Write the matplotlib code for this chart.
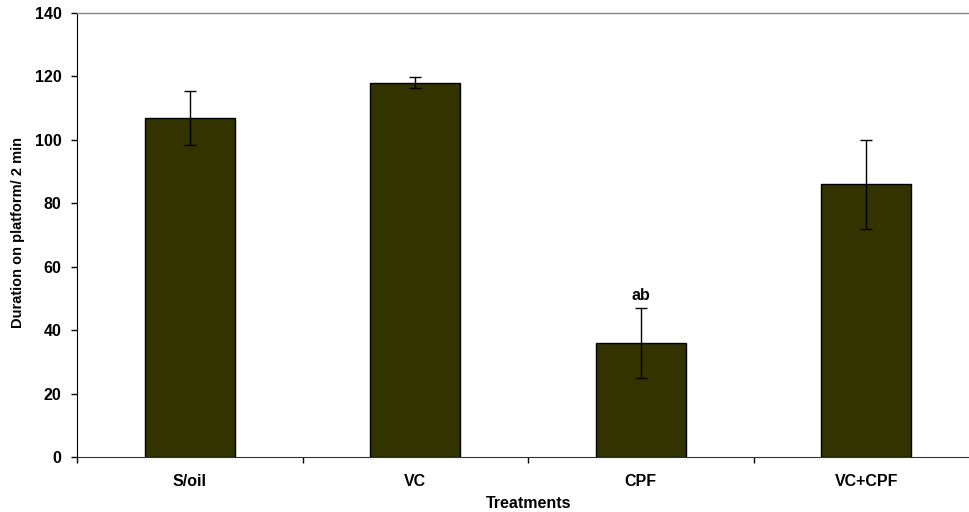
import matplotlib
matplotlib.use("Agg")
import matplotlib.pyplot as plt
import numpy as np

plt.rcParams['font.family'] = ['Liberation Sans', 'DejaVu Sans']
plt.rcParams['font.weight'] = 'bold'

# data
treatments = ['S/oil', 'VC', 'CPF', 'VC+CPF']
duration = [107, 118, 36, 86]
sem = [8.5, 1.8, 11.1, 14.0]
marks = ['', '', 'ab', '']

W, H = 969, 512
fig = plt.figure(figsize=(W / 100, H / 100), dpi=100)
# plot area runs slightly past the right edge of the picture
ax = fig.add_axes([77 / W, 55 / H, 902 / W, 444 / H])

x = np.arange(len(treatments))
ax.bar(x, duration, width=0.40, color='#333300', edgecolor='black', linewidth=1.0, zorder=2)
ax.errorbar(x, duration, yerr=sem, fmt='none', ecolor='black', elinewidth=1.0,
            capsize=4, capthick=1.0, zorder=3)

for xi, yi, ei, m in zip(x, duration, sem, marks):
    if m:
        ax.text(xi, yi + ei + 1.5, m, ha='center', va='bottom', fontsize=11.5, fontweight='bold')

ax.set_xlim(-0.5, len(treatments) - 0.5)
ax.set_ylim(0, 140)
ax.set_yticks(np.arange(0, 141, 20))

# category labels centred, ticks on the category boundaries
ax.set_xticks(np.arange(-0.5, len(treatments)), minor=False)
ax.set_xticklabels([])
ax.set_xticks(x, minor=True)
ax.set_xticklabels(treatments, minor=True, fontsize=11.5, fontweight='bold')
ax.tick_params(axis='x', which='minor', length=0, pad=12)
ax.tick_params(axis='x', which='major', length=4, width=1, direction='out')
ax.tick_params(axis='y', length=4, width=1, direction='out', labelsize=11.5, pad=7)
for lab in ax.get_yticklabels():
    lab.set_fontweight('bold')

ax.spines['left'].set_color('black')
ax.spines['bottom'].set_color('#333333')
ax.spines['top'].set_color('#888888')
ax.spines['top'].set_linewidth(1.0)
ax.spines['right'].set_visible(False)

ax.set_xlabel('Treatments', fontsize=11.5, fontweight='bold')
ax.set_ylabel('Duration on platform/ 2 min', fontsize=10.5, fontweight='bold')
# label centres (pixels)
ax.xaxis.set_label_coords((529 - 77) / 902, (457 - 503) / 444)
ax.yaxis.set_label_coords((18 - 77) / 902, (457 - 233) / 444)
ax.xaxis.label.set_va('center')
ax.yaxis.label.set_va('center')

fig.savefig('out.png', dpi=100)
